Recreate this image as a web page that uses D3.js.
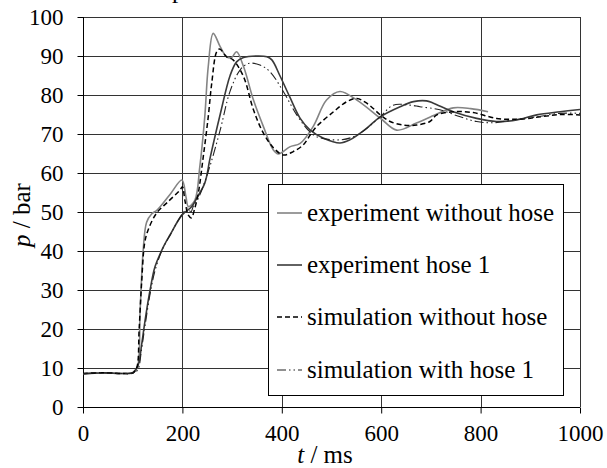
<!DOCTYPE html>
<html><head><meta charset="utf-8">
<script src="https://cdn.jsdelivr.net/npm/d3@7"></script>
<style>body{margin:0;background:#fff}svg{display:block}svg text{font-family:"Liberation Serif",Tinos,"Times New Roman",Times,"DejaVu Serif",serif !important;fill:#000}</style>
</head><body><svg id="c" width="607" height="468"></svg>
<script>
const xTicks = [0, 200, 400, 600, 800, 1000];
const yTicks = [0, 10, 20, 30, 40, 50, 60, 70, 80, 90, 100];
const seriesNames = ["experiment without hose", "experiment hose 1", "simulation without hose", "simulation with hose 1"];

const expNoHoseT = [0,40,80,100,109,115,121,128,138,149,175,199,207,212,225,235,245,252,262,276,289,299,309,323,343,363,383,393,416,437,463,490,517,551,598,631,671,710,745,780,815];
const expNoHoseP = [8.5,8.8,8.6,8.8,10,25,40,47.4,49.5,50.5,54.5,58.2,54,51.4,53,61.6,74.4,87.3,95.8,92.4,89.8,89.6,91.1,87.3,78.7,71.9,65.9,64.9,66.7,67.6,71.9,78.7,80.9,78.7,74.1,71,72.8,75,76.7,76.5,75.7];

const expHoseT = [0,40,80,100,111,118,125,135,145,162,175,199,219,229,245,256,276,296,309,323,350,370,380,396,416,437,457,483,517,537,571,598,638,665,691,705,745,792,832,873,913,960,1000];
const expHoseP = [8.5,8.7,8.6,8.8,10.8,16,22.3,30,36,41.1,44.1,49.2,51.4,53.6,57.4,64,75,85,88.5,89.6,90,89.8,89,85,79.5,74,71,69,67.7,68.5,71.5,74.4,77,78.3,78.5,77.9,75.7,74,73.2,73.6,74.9,75.7,76.3];

const simNoHoseT = [0,40,80,100,108,113,118,124,131,148,170,195,200,205,212,218,225,232,242,252,259,269,275,289,302,323,343,363,383,403,423,443,457,470,504,531,551,571,601,618,644,671,698,712,745,785,832,879,920,960,1000];
const simNoHoseP = [8.6,8.8,8.6,8.7,10,20,32,42,45.4,49.7,52.5,55.6,56.5,53,49.2,48.5,51,54.8,64.2,74.4,83,91.1,91.8,89.8,89,84.7,76.2,70.2,66.5,64.6,65.5,67.2,69.7,71.9,75.7,78.3,79.1,77.9,74.6,73.2,72.3,72.3,73.2,74.9,75.7,75.5,74,73.8,74.4,75,74.9];

const simHoseT = [0,40,80,100,110,118,125,135,145,160,175,190,200,210,217,222,230,240,256,276,296,316,333,356,376,403,430,453,470,517,551,598,624,658,678,718,759,792,826,866,913,960,1000];
const simHoseP = [8.6,8.8,8.6,8.7,9.5,15,21,29,35,40.5,44,47.5,49.5,51,50,51.5,53,56,62,71,81,86.4,88.1,87.7,86,80.9,74.9,71,69.3,68.5,69.7,74.4,77.4,77.4,77,76.2,74.4,73.2,72.9,73.6,74.4,75.3,75.3];

const svg = d3.select("#c");
const L = 83, R = 580, T = 17, B = 407;
const x = d3.scaleLinear().domain([0, 1000]).range([L, R]);
const y = d3.scaleLinear().domain([0, 100]).range([B, T]);
const FS_TICK = "23px", FS = "25px";

// top clipped title fragment
svg.append("text").attr("x", 172).attr("y", -2).style("font-size", FS).text("p");

// grid
const g = svg.append("g");
g.selectAll(".hg").data(yTicks.slice(1)).join("line")
  .attr("x1", L).attr("x2", R).attr("y1", d => Math.round(y(d)) + 0.5).attr("y2", d => Math.round(y(d)) + 0.5)
  .attr("stroke", "#333").attr("stroke-width", 1);
g.selectAll(".vg").data(xTicks.slice(1)).join("line")
  .attr("y1", T).attr("y2", B).attr("x1", d => Math.round(x(d)) + 0.5).attr("x2", d => Math.round(x(d)) + 0.5)
  .attr("stroke", "#333").attr("stroke-width", 1);

// axes
const xAxis = d3.axisBottom(x).tickValues(xTicks).tickFormat(d3.format("d")).tickSize(6).tickPadding(11);
const yAxis = d3.axisLeft(y).tickValues(yTicks).tickFormat(d3.format("d")).tickSize(6).tickPadding(14);
const gx = svg.append("g").attr("transform", `translate(0,${Math.round(B) + 0.5})`).call(xAxis);
const gy = svg.append("g").attr("transform", `translate(${Math.round(L) + 0.5},0)`).call(yAxis);
[gx, gy].forEach(a => {
  a.attr("font-family", null).attr("font-size", null);
  a.select(".domain").attr("stroke", "#000").attr("d", a === gx ? `M${L},0H${R}` : `M0,${B}V${T}`);
  a.selectAll(".tick line").attr("stroke", "#000");
  a.selectAll(".tick text").style("font-size", FS_TICK).attr("fill", "#000");
});
gy.selectAll(".tick text").attr("dy", "0.34em");

// lines
const line = d3.line().x(d => x(d[0])).y(d => y(d[1])).curve(d3.curveCatmullRom.alpha(0.5));
const zip = (a, b) => a.map((t, i) => [t, b[i]]);
const styles = [
  {t: expNoHoseT, p: expNoHoseP, color: "#848484", w: 1.6, dash: null},
  {t: expHoseT, p: expHoseP, color: "#3a3a3a", w: 1.6, dash: null},
  {t: simNoHoseT, p: simNoHoseP, color: "#000", w: 1.5, dash: "5,3"},
  {t: simHoseT, p: simHoseP, color: "#222", w: 1.1, dash: "9,3,1.5,3,1.5,3"}
];
const gl = svg.append("g");
styles.forEach(s => {
  gl.append("path").datum(zip(s.t, s.p)).attr("d", line).attr("fill", "none")
    .attr("stroke", s.color).attr("stroke-width", s.w).attr("stroke-dasharray", s.dash);
});

// legend
const lg = svg.append("g");
lg.append("rect").attr("x", 268.5).attr("y", 184.5).attr("width", 295).attr("height", 211)
  .attr("fill", "#fff").attr("stroke", "#000").attr("stroke-width", 1);
const ly = [213, 265, 317, 370];
seriesNames.forEach((n, i) => {
  const s = styles[i];
  lg.append("line").attr("x1", 277).attr("x2", 302).attr("y1", ly[i]).attr("y2", ly[i])
    .attr("stroke", s.color).attr("stroke-width", s.w).attr("stroke-dasharray", s.dash);
  lg.append("text").attr("x", 307).attr("y", ly[i]).attr("dy", "0.33em").style("font-size", FS).text(n);
});

// axis titles
const xt = svg.append("text").attr("x", 325).attr("y", 463).attr("text-anchor", "middle").style("font-size", FS);
xt.append("tspan").style("font-style", "italic").text("t");
xt.append("tspan").text(" / ms");
const yt = svg.append("text").attr("transform", "translate(30,215) rotate(-90)").attr("text-anchor", "middle").style("font-size", FS);
yt.append("tspan").style("font-style", "italic").text("p");
yt.append("tspan").text(" / bar");
</script></body></html>
